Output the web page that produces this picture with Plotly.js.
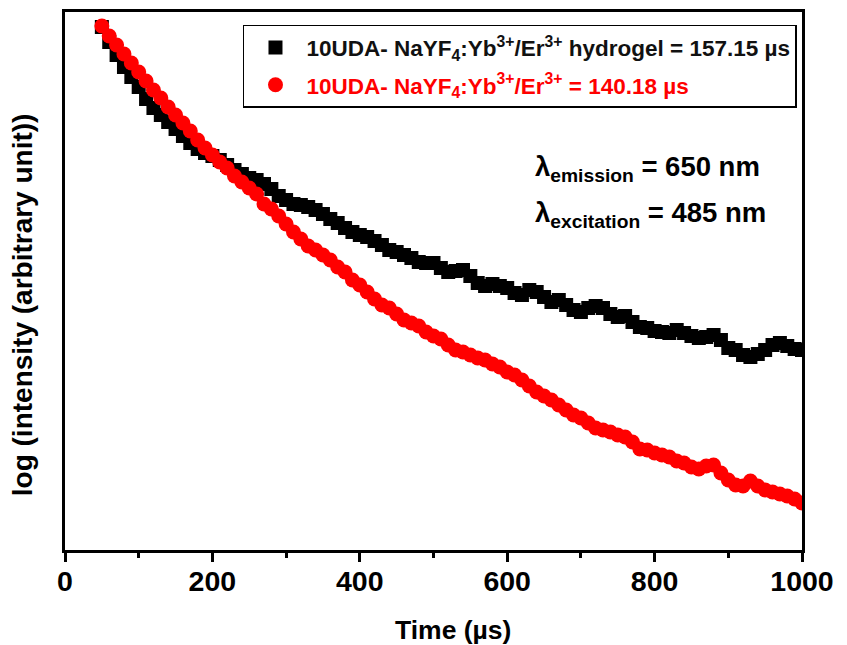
<!DOCTYPE html>
<html>
<head>
<meta charset="utf-8">
<script src="https://cdn.plot.ly/plotly-3.0.1.min.js"></script>
<style>html,body{margin:0;padding:0;background:#fff;}#chart{width:847px;height:645px;}</style>
</head>
<body>
<div id="chart"></div>
<script>
// Time axis (µs)
const time = [50,60,70,80,90,100,110,120,130,140,150,160,170,180,190,200,210,220,230,240,250,260,270,280,290,300,310,320,330,340,350,360,370,380,390,400,410,420,430,440,450,460,470,480,490,500,510,520,530,540,550,560,570,580,590,600,610,620,630,640,650,660,670,680,690,700,710,720,730,740,750,760,770,780,790,800,810,820,830,840,850,860,870,880,890,900,910,920,930,940,950,960,970,980,990,1000];

// log intensity (arbitrary units) – hydrogel sample
const hydrogel = [5.23,5.08,4.95,4.83,4.73,4.63,4.51,4.42,4.35,4.28,4.21,4.14,4.07,4.01,3.97,3.94,3.90,3.85,3.80,3.76,3.72,3.70,3.66,3.61,3.54,3.50,3.46,3.45,3.43,3.40,3.36,3.31,3.27,3.22,3.18,3.15,3.13,3.09,3.05,3.00,2.98,2.95,2.92,2.88,2.87,2.87,2.82,2.78,2.79,2.80,2.74,2.67,2.64,2.66,2.64,2.62,2.57,2.55,2.60,2.58,2.53,2.48,2.50,2.45,2.40,2.38,2.42,2.44,2.42,2.36,2.33,2.34,2.28,2.23,2.22,2.19,2.18,2.17,2.20,2.17,2.14,2.12,2.13,2.15,2.10,2.02,2.00,1.95,1.93,1.96,2.00,2.05,2.07,2.04,2.01,2.00];

// log intensity (arbitrary units) – nanoparticles
const particles = [5.24,5.14,5.05,4.96,4.87,4.78,4.69,4.60,4.52,4.43,4.35,4.27,4.19,4.10,4.02,3.95,3.88,3.82,3.74,3.68,3.62,3.56,3.46,3.41,3.34,3.26,3.18,3.11,3.04,3.00,2.95,2.90,2.83,2.78,2.70,2.65,2.58,2.51,2.45,2.42,2.36,2.30,2.27,2.24,2.18,2.14,2.11,2.05,2.00,1.98,1.95,1.92,1.90,1.86,1.83,1.78,1.75,1.70,1.64,1.58,1.54,1.50,1.45,1.40,1.35,1.32,1.27,1.22,1.20,1.18,1.15,1.13,1.08,1.01,1.00,0.97,0.95,0.93,0.89,0.87,0.83,0.81,0.84,0.85,0.77,0.70,0.65,0.64,0.69,0.64,0.60,0.58,0.56,0.54,0.51,0.47];

const xTicks = [0,200,400,600,800,1000];
const nameHydrogel = "10UDA- NaYF<sub>4</sub>:Yb<sup>3+</sup>/Er<sup>3+</sup> hydrogel = 157.15 µs";
const nameParticles = "<span style='color:#ff0000'>10UDA- NaYF<sub>4</sub>:Yb<sup>3+</sup>/Er<sup>3+</sup> = 140.18 µs</span>";
const xTitle = 'Time (µs)';
const yTitle = 'log (intensity (arbitrary unit))';

const FONT = "Liberation Sans, Arial, sans-serif";

const traces = [
  {x: time, y: hydrogel, type: 'scatter', mode: 'markers', name: nameHydrogel,
   legendgroup: 'a',
   marker: {symbol: 'square', size: 14, color: '#000000'}},
  {x: time, y: particles, type: 'scatter', mode: 'markers', name: nameParticles,
   legendgroup: 'b',
   marker: {symbol: 'circle', size: 15, color: '#ff0000'}}
];

const layout = {
  width: 847, height: 645,
  margin: {l: 65, r: 45, t: 12, b: 95},
  paper_bgcolor: '#ffffff', plot_bgcolor: '#ffffff',
  font: {family: FONT, color: '#000000'},
  showlegend: true,
  legend: {
    x: 0.2415, y: 0.976, xanchor: 'left', yanchor: 'top',
    bgcolor: '#ffffff', bordercolor: '#000000', borderwidth: 1.5,
    font: {family: FONT, size: 22.5, color: '#111111', weight: 'bold'},
    tracegroupgap: 5, traceorder: 'grouped', itemwidth: 52
  },
  xaxis: {
    range: [0, 1000], tickvals: xTicks, ticktext: xTicks.map(String),
    showgrid: false, zeroline: false,
    showline: true, linecolor: '#000000', linewidth: 3, mirror: true,
    ticks: 'outside', ticklen: 9, tickwidth: 3, tickcolor: '#000000',
    ticklabelstandoff: -5,
    minor: {dtick: 100, tick0: 0, ticks: 'outside', ticklen: 5, tickwidth: 3, tickcolor: '#000000'},
    tickfont: {family: FONT, size: 28.5, weight: 'bold'}
  },
  yaxis: {
    range: [0, 5.38],
    showgrid: false, zeroline: false, showticklabels: false, ticks: '',
    showline: true, linecolor: '#000000', linewidth: 3, mirror: true
  },
  annotations: [
    {xref: 'paper', yref: 'paper', x: 0.527, y: -0.148, xanchor: 'center', yanchor: 'middle', showarrow: false,
     text: xTitle, font: {family: FONT, size: 26.5, weight: 'bold', color: '#000000'}},
    {xref: 'paper', yref: 'paper', x: -0.0583, y: 0.455, xanchor: 'center', yanchor: 'middle', showarrow: false,
     textangle: -90, text: yTitle, font: {family: FONT, size: 28, weight: 'bold', color: '#000000'}},
    {xref: 'paper', yref: 'paper', x: 0.635, y: 0.71, xanchor: 'left', yanchor: 'middle', showarrow: false,
     text: 'λ<sub>emission</sub> = 650 nm', font: {family: FONT, size: 27.5, weight: 'bold', color: '#000000'}},
    {xref: 'paper', yref: 'paper', x: 0.635, y: 0.623, xanchor: 'left', yanchor: 'middle', showarrow: false,
     text: 'λ<sub>excitation</sub> = 485 nm', font: {family: FONT, size: 27.5, weight: 'bold', color: '#000000'}}
  ]
};

Plotly.newPlot('chart', traces, layout, {staticPlot: true, displayModeBar: false});
</script>
</body>
</html>
